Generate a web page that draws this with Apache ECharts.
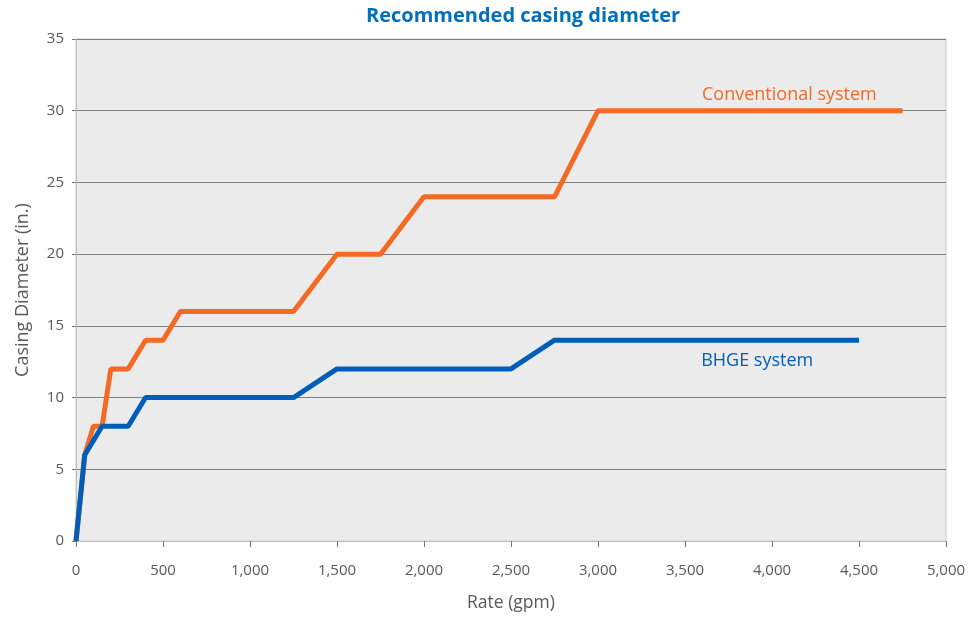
<!DOCTYPE html>
<html><head><meta charset="utf-8">
<script src="https://cdn.jsdelivr.net/npm/echarts@6/dist/echarts.min.js"></script>
<style>html,body{margin:0;padding:0;background:#fff}#c{width:972px;height:620px}</style>
</head><body><div id="c"></div>
<script>
const conventionalRate = [0, 50, 100, 150, 200, 300, 400, 500, 600, 1250, 1500, 1750, 2000, 2750, 3000, 4750];
const conventionalDiam = [0, 6, 8, 8, 12, 12, 14, 14, 16, 16, 20, 20, 24, 24, 30, 30];
const bhgeRate = [0, 50, 150, 300, 400, 1250, 1500, 2500, 2750, 4500];
const bhgeDiam = [0, 6, 8, 8, 10, 10, 12, 12, 14, 14];
const labelConventional = {text: 'Conventional system', at: [4100, 31.1]};
const labelBhge = {text: 'BHGE system', at: [3915, 12.55]};

const pair = (xs, ys) => xs.map((x, i) => [x, ys[i]]);
const font = '"Open Sans", sans-serif';
const chart = echarts.init(document.getElementById('c'));
chart.setOption({
  animation: false,
  backgroundColor: '#ffffff',
  title: {text: 'Recommended casing diameter', left: 361, top: 1,
    textStyle: {color: '#0070BA', fontSize: 20, fontWeight: 'bold', fontFamily: font}},
  grid: {left: 76, right: 26, top: 39, bottom: 79, show: true, backgroundColor: '#EBEBEB', borderColor: '#C8C8C8', borderWidth: 1},
  xAxis: {type: 'value', min: 0, max: 5000, interval: 500,
    name: 'Rate (gpm)', nameLocation: 'middle', nameGap: 53,
    nameTextStyle: {color: '#595959', fontSize: 17.5, fontFamily: font},
    axisLine: {show: true, lineStyle: {color: '#BFBFBF'}},
    axisTick: {show: true, length: 6, lineStyle: {color: '#777'}},
    axisLabel: {color: '#595959', fontSize: 15, fontFamily: font, margin: 22,
      formatter: v => v.toLocaleString('en-US')},
    splitLine: {show: false}},
  yAxis: {type: 'value', min: 0, max: 35, interval: 5,
    name: 'Casing Diameter (in.)', nameLocation: 'middle', nameGap: 44,
    nameTextStyle: {color: '#595959', fontSize: 18, fontFamily: font},
    axisLine: {show: true, lineStyle: {color: '#BFBFBF'}},
    axisTick: {show: true, length: 4, lineStyle: {color: '#777'}},
    axisLabel: {color: '#595959', fontSize: 15, fontFamily: font, margin: 12},
    splitLine: {show: true, lineStyle: {color: '#7F7F7F', width: 1}}},
  series: [
    {type: 'line', name: 'Conventional system', data: pair(conventionalRate, conventionalDiam),
      showSymbol: false, lineStyle: {color: '#F26A24', width: 5}, z: 2,
      markPoint: {symbol: 'circle', symbolSize: 0, data: [{coord: labelConventional.at, value: labelConventional.text}],
        label: {show: true, position: 'inside', formatter: labelConventional.text, color: '#F26A24', fontSize: 18, fontFamily: font}}},
    {type: 'line', name: 'BHGE system', data: pair(bhgeRate, bhgeDiam),
      showSymbol: false, lineStyle: {color: '#005EB8', width: 5}, z: 3,
      markPoint: {symbol: 'circle', symbolSize: 0, data: [{coord: labelBhge.at, value: labelBhge.text}],
        label: {show: true, position: 'inside', formatter: labelBhge.text, color: '#005EB8', fontSize: 18, fontFamily: font}}}
  ]
});
</script></body></html>
